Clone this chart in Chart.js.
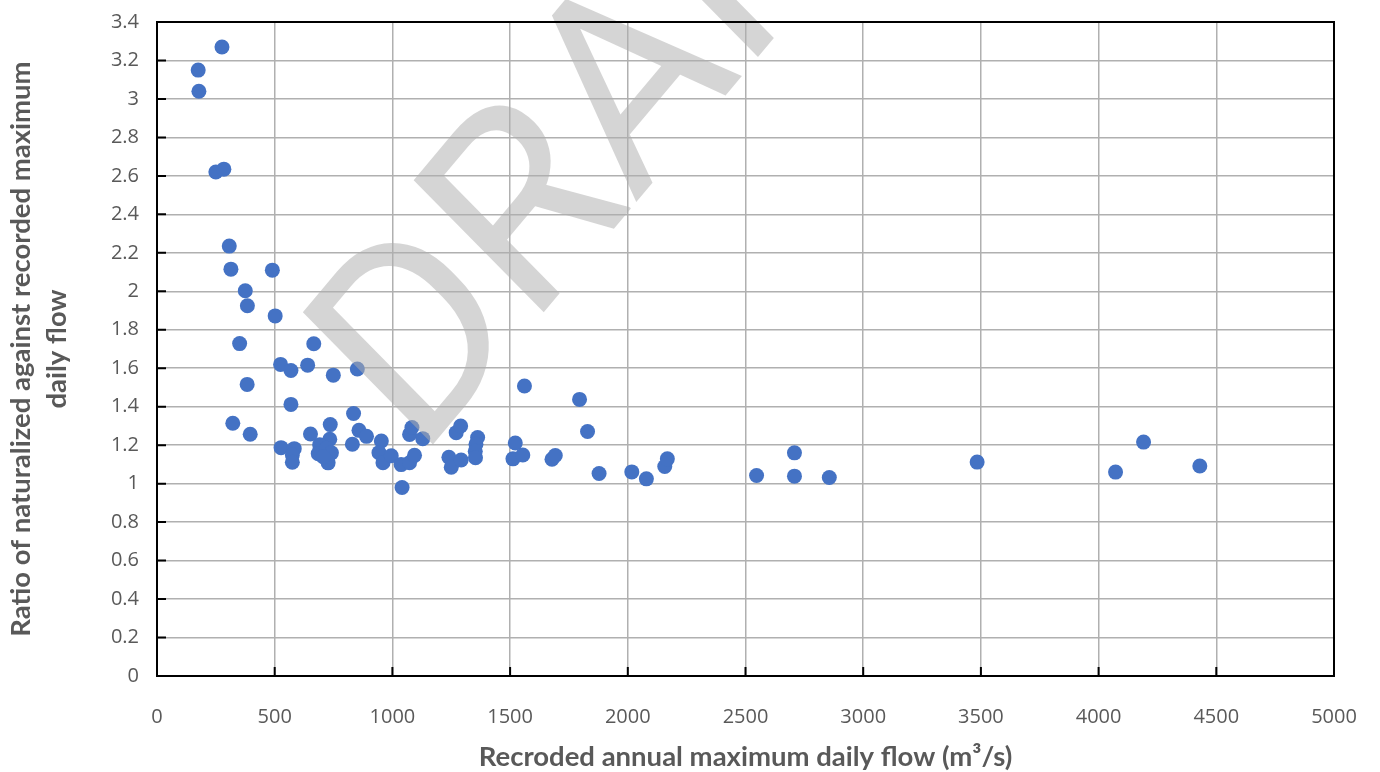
<!DOCTYPE html>
<html lang="en">

<head>
    <meta charset="UTF-8">
    <title>Naturalized vs recorded maximum daily flow</title>
    <style>
        body {
            margin: 0;
            background: white;
        }

        .chart-container {
            width: 1380px;
            height: 772px;
        }
    </style>
</head>

<body>
    <div class="chart-container">
        <canvas id="scatterChart"></canvas>
    </div>

    <script src="https://cdn.jsdelivr.net/npm/chart.js"></script>
    <script>
        // Recorded annual maximum daily flow (m3/s)
        const flows = [
            175, 178, 276, 250, 284, 307, 314, 490, 375, 384,
            502, 351, 666, 525, 569, 640, 749, 851, 383, 569,
            835, 322, 396, 652, 736, 734, 858, 890, 527, 583,
            575, 575, 691, 685, 720, 741, 727, 706, 830, 953,
            943, 960, 995, 1037, 1073, 1094, 1041, 1073, 1083, 1129,
            1240, 1250, 1271, 1290, 1292, 1362, 1355, 1352, 1353, 1522,
            1512, 1554, 1678, 1692, 1561, 1795, 1829, 1878, 2017, 2079,
            2157, 2168, 2547, 2708, 2708, 2856, 3484, 4072, 4191, 4430
        ];

        // Ratio naturalized / recorded for the same years
        const ratios = [
            3.15, 3.04, 3.27, 2.62, 2.635, 2.235, 2.115, 2.11, 2.003, 1.925,
            1.872, 1.728, 1.727, 1.62, 1.588, 1.616, 1.564, 1.596, 1.516, 1.412,
            1.365, 1.314, 1.257, 1.258, 1.307, 1.231, 1.277, 1.246, 1.187, 1.182,
            1.149, 1.111, 1.202, 1.156, 1.184, 1.16, 1.108, 1.14, 1.205, 1.222,
            1.161, 1.109, 1.145, 1.099, 1.109, 1.147, 0.98, 1.256, 1.292, 1.234,
            1.137, 1.085, 1.265, 1.3, 1.123, 1.24, 1.205, 1.168, 1.135, 1.211,
            1.129, 1.149, 1.127, 1.146, 1.508, 1.438, 1.271, 1.053, 1.061, 1.025,
            1.089, 1.129, 1.042, 1.16, 1.039, 1.032, 1.112, 1.06, 1.216, 1.092
        ];

        const xTickLabels = ['0', '500', '1000', '1500', '2000', '2500', '3000', '3500', '4000', '4500', '5000'];
        const yTickLabels = ['0', '0.2', '0.4', '0.6', '0.8', '1', '1.2', '1.4', '1.6', '1.8', '2',
            '2.2', '2.4', '2.6', '2.8', '3', '3.2', '3.4'];

        const points = flows.map((x, i) => ({ x: x, y: ratios[i] }));

        const tickFont = { family: '"Open Sans", sans-serif', size: 20 };

        // frame round the plot area, with short inward tick marks
        const framePlugin = {
            id: 'frame',
            afterDraw(chart) {
                const { ctx, chartArea: a, scales } = chart;
                ctx.save();
                ctx.strokeStyle = '#000';
                ctx.lineWidth = 2;
                ctx.strokeRect(a.left, a.top, a.right - a.left, a.bottom - a.top);
                ctx.beginPath();
                scales.y.ticks.forEach(t => {
                    const py = scales.y.getPixelForValue(t.value);
                    ctx.moveTo(a.left, py);
                    ctx.lineTo(a.left + 9, py);
                });
                scales.x.ticks.forEach(t => {
                    const px = scales.x.getPixelForValue(t.value);
                    ctx.moveTo(px, a.bottom);
                    ctx.lineTo(px, a.bottom - 9);
                });
                ctx.stroke();
                ctx.restore();
            }
        };

        // big grey DRAFT stamp laid over the points (slightly stretched vertically)
        const watermarkPlugin = {
            id: 'watermark',
            afterDatasetsDraw(chart) {
                const ctx = chart.ctx;
                ctx.save();
                ctx.translate(419, 461);
                ctx.scale(1, 1.1);
                ctx.rotate(-47.3 * Math.PI / 180);
                ctx.font = '249px Roboto, sans-serif';
                ctx.fillStyle = 'rgba(175, 175, 175, 0.52)';
                ctx.textAlign = 'left';
                ctx.textBaseline = 'alphabetic';
                ctx.fillText('DRAFT', 0, 0);
                ctx.restore();
            }
        };

        new Chart(document.getElementById('scatterChart'), {
            type: 'scatter',
            data: {
                datasets: [{
                    data: points,
                    backgroundColor: '#4472C4',
                    borderColor: '#4472C4',
                    pointRadius: 7.5,
                    pointHoverRadius: 7.5,
                    borderWidth: 0
                }]
            },
            options: {
                responsive: true,
                maintainAspectRatio: false,
                animation: false,
                layout: {
                    padding: { top: 22, right: 46, left: 0, bottom: 0 }
                },
                plugins: {
                    legend: { display: false },
                    tooltip: { enabled: false }
                },
                scales: {
                    x: {
                        type: 'linear',
                        min: 0,
                        max: 5000,
                        afterFit: (scale) => {
                            scale.height = 96;
                            scale.paddingLeft = 0;
                            scale.paddingRight = 0;
                        },
                        ticks: {
                            stepSize: 500,
                            color: '#595959',
                            font: tickFont,
                            padding: 29,
                            maxRotation: 0,
                            callback: (value, index) => xTickLabels[index]
                        },
                        grid: {
                            color: '#b0b0b0',
                            lineWidth: 1.5,
                            drawTicks: false
                        },
                        border: { display: false },
                        title: {
                            display: true,
                            text: 'Recroded annual maximum daily flow (m³/s)',
                            color: '#595959',
                            font: { family: 'Lato, sans-serif', size: 27.5, weight: 'bold', lineHeight: 1.1 },
                            padding: { top: 0, bottom: 0 }
                        }
                    },
                    y: {
                        min: 0,
                        max: 3.4,
                        afterFit: (scale) => {
                            scale.width = 157;
                            scale.paddingTop = 0;
                            scale.paddingBottom = 0;
                        },
                        ticks: {
                            stepSize: 0.2,
                            color: '#595959',
                            font: tickFont,
                            padding: 18,
                            callback: (value, index) => yTickLabels[index]
                        },
                        grid: {
                            color: '#b0b0b0',
                            lineWidth: 1.5,
                            drawTicks: false
                        },
                        border: { display: false },
                        title: {
                            display: true,
                            text: ['Ratio of naturalized against recorded maximum', 'daily flow'],
                            color: '#595959',
                            font: { family: 'Lato, sans-serif', size: 27.5, weight: 'bold', lineHeight: 1.28 },
                            padding: { top: 4, bottom: 0 }
                        }
                    }
                }
            },
            plugins: [watermarkPlugin, framePlugin]
        });
    </script>
</body>

</html>
